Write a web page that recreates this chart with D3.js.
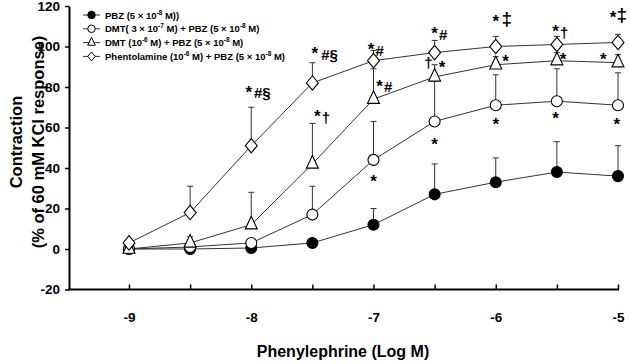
<!DOCTYPE html>
<html>
<head>
  <meta charset="utf-8">
  <title>Phenylephrine concentration-response</title>
  <script src="https://d3js.org/d3.v7.min.js"></script>
  <style>
    body { margin: 0; background: #fff; }
    text { font-family: Arial, "Liberation Sans", sans-serif; font-weight: bold; }
  </style>
</head>
<body>
  <svg id="chart"></svg>

  <script>
    // doses (log M) and tick labels
    var logDose = [-9, -8.5, -8, -7.5, -7, -6.5, -6, -5.5, -5];
    var xTicks = [-9, -8, -7, -6, -5];
    var yTicks = [-20, 0, 20, 40, 60, 80, 100, 120];

    // mean contraction (% of 60 mM KCl) and upper error bar
    var pbzMean     = [0, 0, 0.5, 3, 12, 27, 33, 38, 36];
    var pbzSem      = [0, 0, 0, 0, 8, 15, 12, 15, 15];
    var dmtLowMean  = [0, 1, 3, 17, 44, 63, 71, 73, 71];
    var dmtLowSem   = [0, 0, 0, 14, 19, 20, 15, 16, 16];
    var dmtHighMean = [0, 3, 12, 42, 74, 85, 91, 93, 92];
    var dmtHighSem  = [0, 3, 16, 20, 15, 6, 4, 4, 4];
    var phentMean   = [3, 18, 51, 82, 93, 97, 100, 101, 102];
    var phentSem    = [0, 13, 19, 10, 5, 6, 5, 4, 4];

    // significance marks: [log dose, value, glyph]
    var marks = [
      [-8.02, 81, "*"], [-7.91, 77, "#§"],
      [-7.48, 100, "*"], [-7.36, 96, "#§"],
      [-7.46, 69, "*"], [-7.39, 65, "†"],
      [-7.02, 102, "*"], [-6.95, 98, "#"],
      [-6.95, 84, "*"], [-6.88, 80, "#"],
      [-7.0, 37, "*"],
      [-6.5, 110, "*"], [-6.43, 106, "#"],
      [-6.55, 92, "†"], [-6.44, 93, "*"],
      [-6.5, 55, "*"],
      [-6.0, 116, "*"], [-5.91, 114, "‡"],
      [-5.92, 96, "*"],
      [-6.0, 65, "*"],
      [-5.51, 111, "*"], [-5.44, 107, "†"],
      [-5.45, 97, "*"],
      [-5.51, 68, "*"],
      [-5.04, 118, "*"], [-4.97, 116, "‡"],
      [-5.12, 97, "*"],
      [-5.01, 65, "*"]
    ];

    var series = [
      { name: "pbz",  mean: pbzMean,     sem: pbzSem,     shape: "circle",   fill: "#000" },
      { name: "dmtL", mean: dmtLowMean,  sem: dmtLowSem,  shape: "circle",   fill: "#fff" },
      { name: "dmtH", mean: dmtHighMean, sem: dmtHighSem, shape: "triangle", fill: "#fff" },
      { name: "phen", mean: phentMean,   sem: phentSem,   shape: "diamond",  fill: "#fff" }
    ];

    var width = 630, height = 364;
    var svg = d3.select("#chart").attr("width", width).attr("height", height);

    var x = d3.scaleLinear().domain([-9, -5]).range([129, 618]);
    var y = d3.scaleLinear().domain([-20, 120]).range([289.5, 6]);
    var axisLeftX = 69;

    // marker shapes
    function shapePath(shape, s) {
      if (shape === "circle") {
        return d3.symbol(d3.symbolCircle, Math.PI * s * s / 4)();
      }
      if (shape === "triangle") {
        var h = s * 1.05, w = s / 2;
        return "M0," + (-h * 2 / 3) + "L" + w + "," + (h / 3) + "L" + (-w) + "," + (h / 3) + "Z";
      }
      var a = s / 2, b = s * 0.6;
      return "M0," + (-b) + "L" + a + ",0L0," + b + "L" + (-a) + ",0Z";
    }

    // y axis
    var yAxis = svg.append("g")
      .attr("transform", "translate(" + axisLeftX + ",0)")
      .call(d3.axisLeft(y).tickValues(yTicks).tickSize(4).tickSizeOuter(0).tickPadding(5)
        .tickFormat(function (d) { return String(d); }));
    yAxis.select(".domain").attr("stroke-width", 2);
    yAxis.selectAll(".tick line").attr("stroke-width", 1.5);
    yAxis.selectAll(".tick text").attr("font-size", 13.5).attr("fill", "#000");

    // x axis (ticks point up)
    var xAxis = svg.append("g")
      .attr("transform", "translate(0," + y(-20) + ")")
      .call(d3.axisBottom(x).tickValues(logDose).tickSize(-5).tickSizeOuter(0).tickPadding(23)
        .tickFormat(function (d) { return xTicks.indexOf(d) >= 0 ? String(d) : ""; }));
    xAxis.select(".domain").remove();
    xAxis.selectAll(".tick line").attr("stroke-width", 1.5);
    xAxis.selectAll(".tick text").attr("font-size", 13.5).attr("fill", "#000");
    xAxis.append("line")
      .attr("x1", axisLeftX - 1).attr("x2", x(-5) + 1)
      .attr("y1", 0).attr("y2", 0)
      .attr("stroke", "#000").attr("stroke-width", 2);

    // axis titles
    svg.append("text")
      .attr("x", 343).attr("y", 357)
      .attr("text-anchor", "middle").attr("font-size", 16)
      .text("Phenylephrine (Log M)");
    svg.append("text")
      .attr("transform", "translate(22,142) rotate(-90)")
      .attr("text-anchor", "middle").attr("font-size", 16.5)
      .text("Contraction");
    svg.append("text")
      .attr("transform", "translate(44,142) rotate(-90)")
      .attr("text-anchor", "middle").attr("font-size", 16.5)
      .text("(% of  60 mM KCl response)");

    var line = d3.line()
      .x(function (d, i) { return x(logDose[i]); })
      .y(function (d) { return y(d); });

    // connecting lines
    series.forEach(function (s) {
      svg.append("path")
        .datum(s.mean)
        .attr("fill", "none")
        .attr("stroke", "#333")
        .attr("stroke-width", 1)
        .attr("d", line);
    });

    // upper error bars
    series.forEach(function (s) {
      var g = svg.append("g").attr("stroke", "#333").attr("stroke-width", 1);
      s.mean.forEach(function (m, i) {
        if (!s.sem[i]) return;
        var cx = x(logDose[i]), top = y(m + s.sem[i]);
        g.append("line").attr("x1", cx).attr("x2", cx).attr("y1", y(m)).attr("y2", top);
        g.append("line").attr("x1", cx - 3).attr("x2", cx + 3).attr("y1", top).attr("y2", top);
      });
    });

    // markers
    series.forEach(function (s) {
      var size = s.shape === "circle" ? 11 : 12;
      svg.append("g").selectAll("path")
        .data(s.mean)
        .join("path")
        .attr("transform", function (d, i) { return "translate(" + x(logDose[i]) + "," + y(d) + ")"; })
        .attr("d", shapePath(s.shape, size))
        .attr("fill", s.fill)
        .attr("stroke", "#000")
        .attr("stroke-width", 1.1);
    });

    // significance marks
    svg.append("g").selectAll("text")
      .data(marks)
      .join("text")
      .attr("x", function (d) { return x(d[0]); })
      .attr("y", function (d) { return y(d[1]); })
      .attr("text-anchor", "middle")
      .attr("dy", function (d) { return d[2] === "*" ? "0.75em" : "0.36em"; })
      .attr("font-size", function (d) { return d[2] === "*" ? 17 : d[2] === "‡" ? 19 : 15; })
      .text(function (d) { return d[2]; });

    // legend
    var legendText = [
      ["PBZ (5 × 10", "-8", " M))"],
      ["DMT( 3 × 10", "-7", " M) + PBZ (5 × 10", "-8", " M)"],
      ["DMT (10", "-6", " M) + PBZ (5 × 10", "-8", " M)"],
      ["Phentolamine (10", "-6", " M) + PBZ (5 × 10", "-8", " M)"]
    ];
    var legend = svg.append("g");
    series.forEach(function (s, k) {
      var ly = 15 + k * 13.8;
      legend.append("line")
        .attr("x1", 83).attr("x2", 100).attr("y1", ly).attr("y2", ly)
        .attr("stroke", "#333").attr("stroke-width", 1);
      legend.append("path")
        .attr("transform", "translate(91.5," + ly + ")")
        .attr("d", shapePath(s.shape, 7.5))
        .attr("fill", s.fill).attr("stroke", "#000").attr("stroke-width", 1);
      var t = legend.append("text")
        .attr("x", 105).attr("y", ly + 3.5)
        .attr("font-size", 9.5);
      legendText[k].forEach(function (part, j) {
        var sp = t.append("tspan").text(part);
        if (j % 2 === 1) sp.attr("font-size", 6.5).attr("dy", -4);
        else if (j > 0) sp.attr("dy", 4);
      });
    });
  </script>
</body>
</html>
